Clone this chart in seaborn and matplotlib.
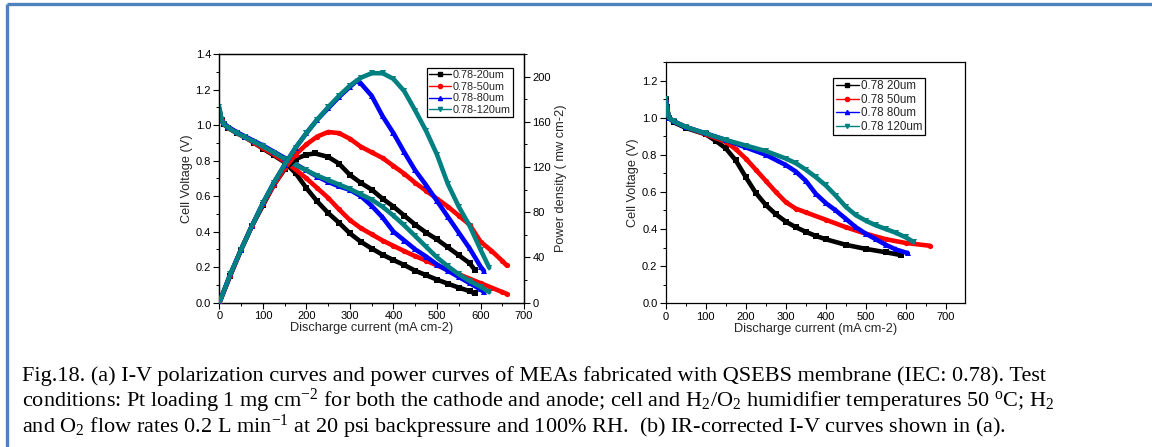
import numpy as np
import pandas as pd
import matplotlib
matplotlib.use("Agg")
import matplotlib.pyplot as plt
from matplotlib.lines import Line2D
from matplotlib.ticker import MultipleLocator
import seaborn as sns

# ---------------- data ----------------
# (a) polarization curves: current (mA cm-2) and voltage (V)
i_20 = [0, 5, 10, 20, 40, 60, 80, 100, 125, 150, 175, 200, 225, 250, 275, 300, 325, 350, 375, 400, 425, 450, 475, 500, 525, 550, 575, 587]
v_20 = [1.08, 1.03, 1.005, 0.985, 0.955, 0.93, 0.90, 0.867, 0.83, 0.79, 0.73, 0.645, 0.57, 0.505, 0.45, 0.39, 0.343, 0.305, 0.27, 0.24, 0.212, 0.18, 0.155, 0.13, 0.107, 0.085, 0.065, 0.052]

i_50 = [0, 5, 10, 20, 40, 60, 80, 100, 125, 150, 175, 200, 225, 250, 275, 300, 325, 350, 375, 400, 425, 450, 475, 500, 525, 550, 575, 600, 625, 650, 660]
v_50 = [1.08, 1.03, 1.005, 0.985, 0.955, 0.93, 0.90, 0.87, 0.835, 0.795, 0.75, 0.70, 0.645, 0.59, 0.525, 0.465, 0.42, 0.385, 0.35, 0.32, 0.29, 0.262, 0.237, 0.21, 0.185, 0.16, 0.135, 0.11, 0.085, 0.06, 0.05]

i_80 = [0, 5, 10, 20, 40, 60, 80, 100, 125, 150, 175, 200, 225, 250, 275, 300, 325, 350, 375, 400, 425, 450, 475, 500, 525, 550, 575, 600, 608]
v_80 = [1.09, 1.03, 1.01, 0.99, 0.96, 0.935, 0.91, 0.885, 0.85, 0.815, 0.78, 0.745, 0.71, 0.68, 0.655, 0.635, 0.60, 0.545, 0.48, 0.40, 0.35, 0.30, 0.26, 0.215, 0.18, 0.145, 0.11, 0.075, 0.06]

i_120 = [0, 5, 10, 20, 40, 60, 80, 100, 125, 150, 175, 200, 225, 250, 275, 300, 325, 350, 375, 400, 425, 450, 475, 500, 525, 550, 575, 600, 620]
v_120 = [1.10, 1.03, 1.005, 0.985, 0.955, 0.93, 0.905, 0.88, 0.845, 0.81, 0.775, 0.745, 0.715, 0.69, 0.665, 0.64, 0.61, 0.58, 0.54, 0.49, 0.435, 0.375, 0.315, 0.255, 0.205, 0.16, 0.122, 0.09, 0.06]

# (a) power curves: current (mA cm-2) and power density (mW cm-2)
pi_20 = [0, 25, 50, 75, 100, 125, 150, 175, 200, 220, 250, 275, 300, 325, 350, 375, 400, 425, 450, 475, 500, 525, 550, 575, 587]
p_20 = [0, 24, 47, 68, 86, 104, 118, 127, 131, 132, 129, 123, 113, 106, 100, 92, 85, 77, 69, 62, 56, 49, 42, 35, 29]

pi_50 = [0, 25, 50, 75, 100, 125, 150, 175, 200, 225, 250, 275, 300, 325, 350, 375, 400, 425, 450, 475, 500, 525, 550, 575, 600, 625, 650, 660]
p_50 = [0, 24, 47, 68, 87, 104, 119, 131, 140, 147, 151, 150, 145, 138, 133, 128, 121, 114, 106, 99, 92, 85, 77, 69, 54, 46, 37, 33]

pi_80 = [0, 25, 50, 75, 100, 125, 150, 175, 200, 225, 250, 275, 300, 315, 325, 350, 375, 400, 425, 450, 475, 500, 525, 550, 575, 600, 608]
p_80 = [0, 25, 47, 68, 88, 106, 122, 137, 150, 162, 172, 182, 191, 196, 194, 183, 165, 150, 133, 117, 104, 90, 76, 62, 48, 32, 28]

pi_120 = [0, 25, 50, 75, 100, 125, 150, 175, 200, 225, 250, 275, 300, 325, 350, 375, 400, 425, 450, 475, 500, 525, 550, 575, 600, 620]
p_120 = [0, 25, 47, 68, 88, 106, 122, 137, 150, 162, 173, 183, 192, 199, 203, 203, 198, 187, 170, 152, 131, 105, 85, 68, 47, 31]

# (b) IR-corrected curves
ri_20 = [0, 3, 8, 20, 50, 100, 125, 150, 175, 200, 225, 250, 275, 300, 325, 350, 375, 400, 450, 500, 550, 587]
rv_20 = [1.10, 1.06, 1.0, 0.975, 0.945, 0.91, 0.875, 0.835, 0.77, 0.68, 0.595, 0.53, 0.48, 0.44, 0.41, 0.385, 0.363, 0.345, 0.315, 0.293, 0.275, 0.26]

ri_50 = [0, 3, 8, 20, 50, 100, 150, 175, 200, 225, 250, 275, 300, 325, 350, 400, 450, 500, 550, 600, 660]
rv_50 = [1.09, 1.05, 1.0, 0.98, 0.95, 0.91, 0.87, 0.83, 0.78, 0.72, 0.66, 0.60, 0.545, 0.51, 0.49, 0.45, 0.41, 0.375, 0.345, 0.325, 0.31]

ri_80 = [0, 3, 8, 20, 50, 100, 150, 200, 250, 300, 325, 350, 375, 400, 425, 450, 475, 500, 525, 550, 575, 605]
rv_80 = [1.10, 1.05, 1.0, 0.98, 0.95, 0.915, 0.88, 0.84, 0.80, 0.745, 0.71, 0.66, 0.59, 0.54, 0.50, 0.455, 0.41, 0.375, 0.345, 0.315, 0.29, 0.27]

ri_120 = [0, 3, 8, 20, 50, 100, 150, 200, 250, 300, 325, 350, 375, 400, 425, 450, 475, 500, 525, 550, 575, 600, 620]
rv_120 = [1.10, 1.05, 1.0, 0.98, 0.95, 0.915, 0.88, 0.85, 0.82, 0.78, 0.755, 0.72, 0.68, 0.635, 0.58, 0.52, 0.475, 0.445, 0.42, 0.40, 0.38, 0.355, 0.33]

labels_a = ["0.78-20um", "0.78-50um", "0.78-80um", "0.78-120um"]
labels_b = ["0.78 20um", "0.78 50um", "0.78 80um", "0.78 120um"]
colors = ["#000000", "#FF0000", "#0000FF", "#008080"]
markers = ["s", "o", "^", "v"]

x_ticks = [0, 100, 200, 300, 400, 500, 600, 700]
caption = [
    "Fig.18. (a) I-V polarization curves and power curves of MEAs fabricated with QSEBS membrane (IEC: 0.78). Test",
    "conditions: Pt loading 1 mg cm$^{-2}$ for both the cathode and anode; cell and H$_2$/O$_2$ humidifier temperatures 50 $^{\\mathrm{o}}$C; H$_2$",
    "and O$_2$ flow rates 0.2 L min$^{-1}$ at 20 psi backpressure and 100% RH.  (b) IR-corrected I-V curves shown in (a).",
]

# ---------------- style ----------------
sns.set_theme(style="ticks")
plt.rcParams["font.family"] = ["Liberation Sans", "DejaVu Sans"]
plt.rcParams["mathtext.fontset"] = "custom"
plt.rcParams["mathtext.rm"] = "Liberation Serif"
plt.rcParams["mathtext.it"] = "Liberation Serif:italic"
plt.rcParams["mathtext.bf"] = "Liberation Serif:bold"
plt.rcParams["xtick.direction"] = "out"
plt.rcParams["ytick.direction"] = "out"

fig = plt.figure(figsize=(11.52, 4.47), dpi=100)
fig.patch.set_facecolor("white")

ax1 = fig.add_axes([0.1904, 0.3228, 0.2645, 0.5564])
ax1b = ax1.twinx()
axr = fig.add_axes([0.5779, 0.3215, 0.2598, 0.5398])

LW = 3.3
MS = 3.8

def draw(ax, xs, ys, color, marker):
    sns.lineplot(x=xs, y=ys, ax=ax, color=color, marker=marker, markersize=MS,
                 markeredgewidth=0, linewidth=LW, sort=False, estimator=None,
                 legend=False, zorder=3)

series_v = [(i_20, v_20), (i_50, v_50), (i_80, v_80), (i_120, v_120)]
series_p = [(pi_20, p_20), (pi_50, p_50), (pi_80, p_80), (pi_120, p_120)]
series_r = [(ri_20, rv_20), (ri_50, rv_50), (ri_80, rv_80), (ri_120, rv_120)]

for (xs, ys), c, m in zip(series_v, colors, markers):
    draw(ax1, xs, ys, c, m)
for (xs, ys), c, m in zip(series_p, colors, markers):
    draw(ax1b, xs, ys, c, m)
for (xs, ys), c, m in zip(series_r, colors, markers):
    draw(axr, xs, ys, c, m)

TICK_FS = 8
LABEL_FS = 9.2

def style_axis(ax):
    for s in ax.spines.values():
        s.set_color("black")
        s.set_linewidth(0.9)
        s.set_visible(True)
    ax.tick_params(axis="both", which="major", length=4, width=0.8, colors="black",
                   labelsize=TICK_FS, pad=2)
    ax.tick_params(axis="both", which="minor", length=2, width=0.7, colors="black")
    ax.set_facecolor("white")

# left panel
ax1.set_xlim(0, 700)
ax1.set_ylim(0, 1.4)
ax1.set_xticks(x_ticks)
ax1.xaxis.set_minor_locator(MultipleLocator(50))
ax1.yaxis.set_major_locator(MultipleLocator(0.2))
ax1.yaxis.set_minor_locator(MultipleLocator(0.1))
ax1.yaxis.set_major_formatter(matplotlib.ticker.FormatStrFormatter("%.1f"))
ax1.set_xlabel("Discharge current (mA cm-2)", fontsize=LABEL_FS, labelpad=1)
ax1.set_ylabel("Cell Voltage (V)", fontsize=LABEL_FS, labelpad=2)
style_axis(ax1)
ax1.tick_params(top=False, right=False, which="both")

ax1b.set_ylim(0, 220)
ax1b.yaxis.set_major_locator(MultipleLocator(40))
ax1b.yaxis.set_minor_locator(MultipleLocator(20))
ax1b.set_ylabel("Power density ( mw cm-2)", fontsize=LABEL_FS, labelpad=3)
style_axis(ax1b)
ax1b.tick_params(left=False, labelleft=False, which="both")

# right panel
axr.set_xlim(0, 748)
axr.set_ylim(0, 1.3)
axr.set_xticks(x_ticks)
axr.xaxis.set_minor_locator(MultipleLocator(50))
axr.yaxis.set_major_locator(MultipleLocator(0.2))
axr.yaxis.set_minor_locator(MultipleLocator(0.1))
axr.yaxis.set_major_formatter(matplotlib.ticker.FormatStrFormatter("%.1f"))
axr.set_xlabel("Discharge current (mA cm-2)", fontsize=LABEL_FS, labelpad=1)
axr.set_ylabel("Cell Voltage (V)", fontsize=LABEL_FS, labelpad=2)
style_axis(axr)
axr.tick_params(top=False, right=False, which="both")

def legend_handles(labels):
    return [Line2D([0], [0], color=c, marker=m, markersize=3, lw=1, label=l)
            for c, m, l in zip(colors, markers, labels)]

leg1 = ax1b.legend(handles=legend_handles(labels_a), loc="upper left",
                   bbox_to_anchor=(0.682, 0.944), fontsize=7.8, frameon=True,
                   fancybox=False, edgecolor="black", framealpha=1,
                   handlelength=2.0, handletextpad=0.15, labelspacing=0.15,
                   borderpad=0.2, borderaxespad=0)
leg1.get_frame().set_linewidth(0.9)

leg2 = axr.legend(handles=legend_handles(labels_b), loc="upper left",
                  bbox_to_anchor=(0.56, 0.933), fontsize=8.4, frameon=True,
                  fancybox=False, edgecolor="black", framealpha=1,
                  handlelength=2.0, handletextpad=0.15, labelspacing=0.12,
                  borderpad=0.2, borderaxespad=0)
leg2.get_frame().set_linewidth(0.9)

# caption
cap_y = [376, 401, 427]
for line, yy in zip(caption, cap_y):
    fig.text(22 / 1152, 1 - yy / 447, line, fontsize=16.0,
             family=["Liberation Serif", "DejaVu Serif"], va="center", ha="left",
             color="black")

# blue frame (top and left)
frame_c = "#4F81BD"
fig.add_artist(Line2D([7 / 1152, 1.0], [1 - 4 / 447, 1 - 4 / 447], color=frame_c,
                      lw=2.4, transform=fig.transFigure, solid_capstyle="butt"))
fig.add_artist(Line2D([7 / 1152, 7 / 1152], [0.0, 1 - 4 / 447], color=frame_c,
                      lw=2.4, transform=fig.transFigure, solid_capstyle="butt"))

fig.savefig("out.png", dpi=100, facecolor="white")
